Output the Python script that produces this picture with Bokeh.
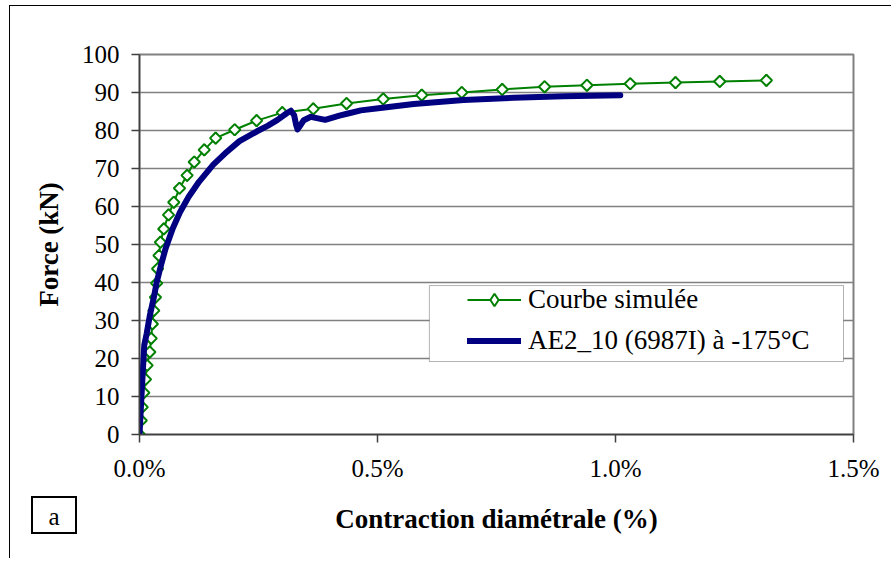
from bokeh.plotting import figure
from bokeh.layouts import column
from bokeh.models import (Range1d, FixedTicker, PrintfTickFormatter, Legend, LegendItem,
                          BoxAnnotation, Div)
from bokeh.embed import file_html
from bokeh.resources import INLINE

# ---- data (x in %, y in kN) ----
sim_x = [0.0, 0.0036, 0.0057, 0.009, 0.0126, 0.016, 0.0216, 0.0245, 0.027, 0.030, 0.0335,
         0.036, 0.038, 0.041, 0.044, 0.051, 0.061, 0.072, 0.084, 0.100, 0.115, 0.136,
         0.160, 0.200, 0.246, 0.300, 0.365, 0.435, 0.512, 0.593, 0.677, 0.762, 0.851,
         0.940, 1.031, 1.126, 1.219, 1.317]
sim_y = [0.0, 3.7, 7.2, 11.0, 14.5, 18.2, 21.7, 25.3, 29.1, 32.6, 36.1,
         39.8, 43.6, 47.1, 50.6, 54.1, 57.8, 61.1, 64.8, 68.2, 71.7, 74.9,
         78.0, 80.2, 82.6, 84.7, 85.7, 87.1, 88.3, 89.3, 90.0, 90.8, 91.5,
         91.9, 92.3, 92.6, 92.9, 93.2]

exp_x = [0.0, 0.002, 0.005, 0.008, 0.010, 0.015, 0.022, 0.030, 0.036, 0.045, 0.055, 0.070,
         0.085, 0.103, 0.125, 0.155, 0.180, 0.210, 0.247, 0.270, 0.290, 0.310, 0.318, 0.325,
         0.329, 0.332, 0.337, 0.345, 0.360, 0.375, 0.390, 0.420, 0.436, 0.465, 0.506, 0.576,
         0.681, 0.786, 0.891, 1.010]
exp_y = [0.0, 5.0, 12.0, 19.0, 23.5, 26.5, 31.5, 36.0, 40.0, 44.5, 49.0, 54.3,
         58.5, 62.5, 66.5, 71.0, 74.0, 77.2, 79.8, 81.3, 82.8, 84.6, 85.2, 84.0,
         81.5, 80.3, 81.2, 82.7, 83.6, 83.2, 82.8, 83.9, 84.4, 85.3, 85.9, 87.0,
         88.0, 88.6, 89.0, 89.3]

x_ticks = [0.0, 0.5, 1.0, 1.5]
y_ticks = [0, 10, 20, 30, 40, 50, 60, 70, 80, 90, 100]

sim_label = "Courbe simulée"
exp_label = "AE2_10 (6987I) à -175°C"
x_title = "Contraction diamétrale (%)"
y_title = "Force (kN)"
panel_tag = "a"

FONT = "Liberation Serif"
GREEN = "#008000"
NAVY = "#000080"

p = figure(width=882, height=553, output_backend="svg", toolbar_location=None,
           x_range=Range1d(0, 1.5), y_range=Range1d(0, 100),
           min_border_left=129, min_border_right=39, min_border_top=48, min_border_bottom=125)
p.styles = {"margin-left": "9px", "margin-top": "5px",
            "border-top": "1px solid black", "border-left": "1px solid black"}
p.background_fill_color = "white"
p.border_fill_color = "white"
p.outline_line_color = "#808080"
p.outline_line_width = 2

# axes
p.xaxis.ticker = FixedTicker(ticks=x_ticks)
p.xaxis.formatter = PrintfTickFormatter(format="%.1f%%")
p.yaxis.ticker = FixedTicker(ticks=y_ticks)
for ax in (p.xaxis, p.yaxis):
    ax.axis_line_color = "#404040"
    ax.axis_line_width = 1.5
    ax.major_tick_line_color = "#404040"
    ax.major_tick_line_width = 1.5
    ax.major_tick_out = 8
    ax.major_tick_in = 0
    ax.minor_tick_line_color = None
    ax.major_label_text_font = FONT
    ax.major_label_text_font_size = "25px"
    ax.major_label_text_color = "black"
    ax.axis_label_text_font = FONT
    ax.axis_label_text_font_style = "bold"
    ax.axis_label_text_font_size = "27px"
    ax.axis_label_text_color = "black"
p.xaxis.axis_label = x_title
p.yaxis.axis_label = y_title
p.xaxis.major_label_standoff = 12
p.yaxis.major_label_standoff = 12
p.xaxis.axis_label_standoff = 19
p.yaxis.axis_label_standoff = 15

p.xgrid.grid_line_color = None
p.ygrid.grid_line_color = "#808080"
p.ygrid.grid_line_width = 1.5

# legend box (covers grid lines)
box = BoxAnnotation(left=0.609, right=1.479, top=39.2, bottom=19.2,
                    fill_color="white", fill_alpha=1.0, line_color="black", line_width=1,
                    level="underlay")
p.add_layout(box)

# series
g_line = p.line(sim_x, sim_y, line_color=GREEN, line_width=2)
g_key = p.scatter(sim_x, sim_y, marker="diamond", size=11,
                  line_color=GREEN, line_width=2, fill_color="white")
g_mark = p.scatter(sim_x, sim_y, marker="square", angle=0.785398, size=8,
                   line_color=GREEN, line_width=2, fill_color="white")
b_line = p.line(exp_x, exp_y, line_color=NAVY, line_width=6, line_join="round", line_cap="round")

legend = Legend(items=[LegendItem(label=sim_label, renderers=[g_line, g_key]),
                       LegendItem(label=exp_label, renderers=[b_line])],
                location=(322, 72), padding=6, spacing=10,
                glyph_width=54, glyph_height=31, label_height=31, label_standoff=7,
                label_text_font=FONT, label_text_font_size="27px", label_text_color="black",
                background_fill_alpha=0, border_line_alpha=0)
p.add_layout(legend, "center")

# panel tag "a" (boxed letter below the chart, left side)
tag = Div(text=panel_tag, width=46, height=38,
          styles={"margin-top": "-62px", "margin-left": "31px",
                  "border": "2px solid black", "background": "white",
                  "font-family": "'Liberation Serif'", "font-size": "25px",
                  "text-align": "center", "line-height": "38px", "color": "black",
                  "z-index": "2"})

layout = column(p, tag)
open("out.html", "w").write(file_html(layout, INLINE))
